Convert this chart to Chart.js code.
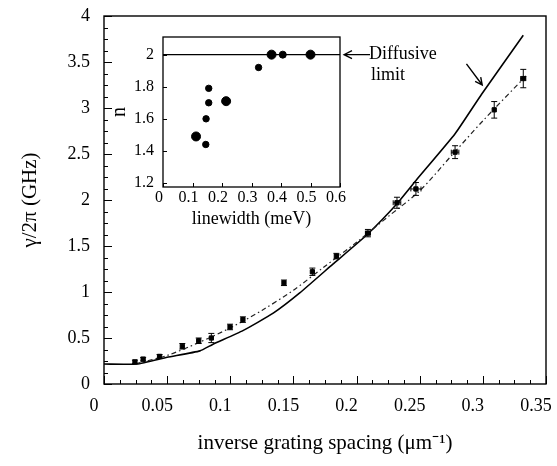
<!DOCTYPE html>
<html>
<head>
<meta charset="utf-8">
<script src="https://cdn.jsdelivr.net/npm/chart.js@4/dist/chart.umd.min.js"></script>
<style>
  body { margin: 0; background: #fff; }
  #wrap { position: relative; width: 557px; height: 466px; background: #fff; }
  #main { position: absolute; left: 0; top: 0; }
  #inset { position: absolute; left: 100px; top: 20px; }
</style>
</head>
<body>
<div id="wrap">
  <canvas id="main" width="557" height="466"></canvas>
  <canvas id="inset" width="360" height="210"></canvas>
</div>
<script>
// measured damping rate vs inverse grating spacing
const spacingX = [0.0245, 0.031, 0.044, 0.062, 0.075, 0.085, 0.0998, 0.110, 0.1425, 0.165, 0.184, 0.209, 0.232, 0.247, 0.278, 0.309, 0.332];
const gammaY   = [0.24, 0.27, 0.30, 0.41, 0.47, 0.50, 0.62, 0.70, 1.10, 1.22, 1.39, 1.64, 1.97, 2.12, 2.52, 2.98, 3.32];
const gammaErr = [0.02, 0.02, 0.02, 0.03, 0.03, 0.05, 0.03, 0.03, 0.03, 0.04, 0.03, 0.04, 0.06, 0.07, 0.07, 0.09, 0.10];
const spacingErr = [0, 0, 0, 0, 0, 0, 0, 0, 0, 0, 0, 0.002, 0.003, 0.004, 0.003, 0, 0.002];

// power law fit (dash-dot)
const fitX = [0.025, 0.05, 0.075, 0.1, 0.125, 0.15, 0.175, 0.2, 0.225, 0.25, 0.275, 0.3, 0.335];
const fitY = [0.22, 0.31, 0.45, 0.61, 0.80, 1.02, 1.28, 1.54, 1.82, 2.10, 2.48, 2.86, 3.36];

// theory (solid)
const theoryX = [0, 0.026, 0.05, 0.076, 0.086, 0.11, 0.134, 0.155, 0.181, 0.208, 0.232, 0.2475, 0.278, 0.299, 0.332];
const theoryY = [0.217, 0.217, 0.29, 0.36, 0.43, 0.58, 0.77, 0.99, 1.30, 1.62, 1.96, 2.22, 2.72, 3.15, 3.79];

// inset: exponent n vs linewidth
const lwX = [0.112, 0.145, 0.146, 0.155, 0.155, 0.214, 0.324, 0.368, 0.406, 0.50];
const nY  = [1.49, 1.44, 1.60, 1.70, 1.79, 1.71, 1.92, 2.0, 2.0, 2.0];
const nSize = [4.5, 3.2, 3.2, 3.2, 3.2, 4.5, 3.2, 4.5, 3.5, 4.5];
const limitX = [0, 0.6];
const limitY = [2, 2];

const insetXTicks = [0, 0.1, 0.2, 0.3, 0.4, 0.5, 0.6];
const insetYTicks = [1.2, 1.4, 1.6, 1.8, 2];

const serif = 'Liberation Serif';
const pts = (xs, ys) => xs.map((x, i) => ({ x, y: ys[i] }));
const plain = v => String(parseFloat(Number(v).toFixed(4)));

function countSteps(min, max, step) {
  return Math.floor((max - min) / step + 1e-6);
}

// frame + inward ticks
const frameTicks = {
  id: 'frameTicks',
  afterDraw(chart, args, o) {
    const { ctx, chartArea: a, scales: { x, y } } = chart;
    ctx.save();
    ctx.strokeStyle = '#000';
    ctx.lineWidth = o.lw || 1.3;
    ctx.strokeRect(a.left, a.top, a.right - a.left, a.bottom - a.top);
    ctx.lineWidth = 1;
    ctx.beginPath();
    let n = countSteps(x.min, x.max, o.xMinor);
    for (let i = 0; i <= n; i++) {
      const v = x.min + i * o.xMinor;
      const px = Math.round(x.getPixelForValue(v)) + 0.5;
      const major = Math.abs(v / o.xMajor - Math.round(v / o.xMajor)) < 1e-6;
      ctx.moveTo(px, a.bottom);
      ctx.lineTo(px, a.bottom - (major ? o.majorLen : o.minorLen));
    }
    n = countSteps(o.yStart, y.max, o.yMinor);
    for (let i = 0; i <= n; i++) {
      const v = o.yStart + i * o.yMinor;
      if (v < y.min - 1e-9 || v > y.max + 1e-9) continue;
      const py = Math.round(y.getPixelForValue(v)) + 0.5;
      const major = Math.abs(v / o.yMajor - Math.round(v / o.yMajor)) < 1e-6;
      ctx.moveTo(a.left, py);
      ctx.lineTo(a.left + (major ? o.majorLen : o.minorLen), py);
    }
    ctx.stroke();
    ctx.restore();
  }
};

// error bars drawn from dataset arrays through the scales
const errorBars = {
  id: 'errorBars',
  afterDatasetsDraw(chart) {
    const { ctx, scales: { x, y } } = chart;
    ctx.save();
    ctx.strokeStyle = '#000';
    ctx.lineWidth = 1;
    chart.data.datasets.forEach(ds => {
      if (!ds.yErr) return;
      ds.data.forEach((p, i) => {
        const px = x.getPixelForValue(p.x);
        const py = y.getPixelForValue(p.y);
        const ey = ds.yErr[i], ex = ds.xErr[i];
        ctx.beginPath();
        if (ey) {
          const t = y.getPixelForValue(p.y + ey), b = y.getPixelForValue(p.y - ey);
          ctx.moveTo(px, t); ctx.lineTo(px, b);
          ctx.moveTo(px - 3, t); ctx.lineTo(px + 3, t);
          ctx.moveTo(px - 3, b); ctx.lineTo(px + 3, b);
        }
        if (ex) {
          const l = x.getPixelForValue(p.x - ex), r = x.getPixelForValue(p.x + ex);
          ctx.moveTo(l, py); ctx.lineTo(r, py);
          ctx.moveTo(l, py - 2.5); ctx.lineTo(l, py + 2.5);
          ctx.moveTo(r, py - 2.5); ctx.lineTo(r, py + 2.5);
        }
        ctx.stroke();
      });
    });
    ctx.restore();
  }
};

// arrow pointing at the theory curve
const curveArrow = {
  id: 'curveArrow',
  afterDraw(chart) {
    const { ctx, scales: { x, y } } = chart;
    const x0 = x.getPixelForValue(0.287), y0 = y.getPixelForValue(3.48);
    const x1 = x.getPixelForValue(0.2995), y1 = y.getPixelForValue(3.25);
    const ang = Math.atan2(y1 - y0, x1 - x0);
    ctx.save();
    ctx.strokeStyle = '#000';
    ctx.lineWidth = 1.4;
    ctx.beginPath();
    ctx.moveTo(x0, y0); ctx.lineTo(x1, y1);
    ctx.moveTo(x1 - 8 * Math.cos(ang - 0.45), y1 - 8 * Math.sin(ang - 0.45));
    ctx.lineTo(x1, y1);
    ctx.lineTo(x1 - 8 * Math.cos(ang + 0.45), y1 - 8 * Math.sin(ang + 0.45));
    ctx.stroke();
    ctx.restore();
  }
};

new Chart(document.getElementById('main'), {
  type: 'scatter',
  data: {
    datasets: [
      {
        label: 'data',
        data: pts(spacingX, gammaY),
        yErr: gammaErr,
        xErr: spacingErr,
        backgroundColor: '#000',
        borderColor: '#000',
        pointRadius: 3,
        pointStyle: 'rect',
        order: 0
      },
      {
        label: 'fit',
        data: pts(fitX, fitY),
        showLine: true,
        borderColor: '#222',
        borderWidth: 1.2,
        borderDash: [5, 3, 1.5, 3],
        pointRadius: 0,
        tension: 0.3,
        order: 1
      },
      {
        label: 'theory',
        data: pts(theoryX, theoryY),
        showLine: true,
        borderColor: '#000',
        borderWidth: 1.6,
        pointRadius: 0,
        tension: 0.15,
        order: 2
      }
    ]
  },
  options: {
    responsive: false,
    animation: false,
    layout: { padding: { left: 0, right: 11, top: 16, bottom: 0 } },
    plugins: {
      legend: { display: false },
      tooltip: { enabled: false },
      frameTicks: { xMinor: 0.0125, xMajor: 0.05, yStart: 0, yMinor: 0.125, yMajor: 0.5, majorLen: 8, minorLen: 4, lw: 1.4 }
    },
    scales: {
      x: {
        type: 'linear',
        min: 0, max: 0.35,
        grid: { display: false, drawTicks: false },
        border: { display: false },
        ticks: { stepSize: 0.05, color: '#000', font: { family: serif, size: 18 }, padding: 11, labelOffset: -10, maxRotation: 0, callback: plain },
        title: { display: true, text: 'inverse grating spacing (μm⁻¹)', color: '#000', font: { family: serif, size: 21 }, padding: { top: 4, bottom: 10 } },
        afterFit(s) { s.height = 82; s.paddingLeft = 0; s.paddingRight = 0; }
      },
      y: {
        min: 0, max: 4,
        grid: { display: false, drawTicks: false },
        border: { display: false },
        ticks: { stepSize: 0.5, color: '#000', font: { family: serif, size: 18 }, padding: 14, callback: plain },
        title: { display: true, text: 'γ/2π (GHz)', color: '#000', font: { family: serif, size: 21 }, padding: { top: 18, bottom: 0 } },
        afterFit(s) { s.width = 104; s.paddingTop = 0; s.paddingBottom = 0; }
      }
    }
  },
  plugins: [frameTicks, errorBars, curveArrow]
});

// white box under the inset plus the "Diffusive limit" label
const insetDecor = {
  id: 'insetDecor',
  beforeDraw(chart) {
    const { ctx, chartArea: a } = chart;
    ctx.save();
    ctx.fillStyle = '#fff';
    ctx.fillRect(a.left, a.top, a.right - a.left, a.bottom - a.top);
    ctx.restore();
  },
  afterDraw(chart) {
    const { ctx, chartArea: a, scales: { y } } = chart;
    const py = y.getPixelForValue(2);
    const ax = a.right + 4;
    ctx.save();
    ctx.strokeStyle = '#000';
    ctx.lineWidth = 1.3;
    ctx.beginPath();
    ctx.moveTo(ax + 26, py); ctx.lineTo(ax, py);
    ctx.moveTo(ax + 8, py - 4); ctx.lineTo(ax, py); ctx.lineTo(ax + 8, py + 4);
    ctx.stroke();
    ctx.fillStyle = '#000';
    ctx.font = '18px ' + serif;
    ctx.textBaseline = 'middle';
    ctx.fillText('Diffusive', ax + 25, py);
    ctx.fillText('limit', ax + 27, py + 21);
    ctx.restore();
  }
};

new Chart(document.getElementById('inset'), {
  type: 'scatter',
  data: {
    datasets: [
      {
        label: 'n',
        data: pts(lwX, nY),
        backgroundColor: '#000',
        borderColor: '#000',
        pointRadius: nSize,
        order: 0
      },
      {
        label: 'limit',
        data: pts(limitX, limitY),
        showLine: true,
        borderColor: '#000',
        borderWidth: 1.3,
        pointRadius: 0,
        order: 1
      }
    ]
  },
  options: {
    responsive: false,
    animation: false,
    layout: { padding: { left: 0, right: 120, top: 17, bottom: 0 } },
    plugins: {
      legend: { display: false },
      tooltip: { enabled: false },
      frameTicks: { xMinor: 0.1, xMajor: 0.1, yStart: 1.2, yMinor: 0.2, yMajor: 0.2, majorLen: 4, minorLen: 4, lw: 1.3 }
    },
    scales: {
      x: {
        type: 'linear',
        min: 0, max: 0.6,
        grid: { display: false, drawTicks: false },
        border: { display: false },
        afterBuildTicks(s) { s.ticks = insetXTicks.map(v => ({ value: v })); },
        ticks: { color: '#000', font: { family: serif, size: 16 }, padding: 1, labelOffset: -4, maxRotation: 0, callback: plain },
        title: { display: true, text: 'linewidth (meV)', color: '#000', font: { family: serif, size: 18 }, padding: { top: 0, bottom: 0 } },
        afterFit(s) { s.height = 43; s.paddingLeft = 0; s.paddingRight = 0; }
      },
      y: {
        min: 1.175, max: 2.11,
        grid: { display: false, drawTicks: false },
        border: { display: false },
        afterBuildTicks(s) { s.ticks = insetYTicks.map(v => ({ value: v })); },
        ticks: { color: '#000', font: { family: serif, size: 16 }, padding: 9, callback: plain },
        title: { display: true, text: 'n', color: '#000', font: { family: serif, size: 20 }, padding: { top: 8, bottom: 0 } },
        afterFit(s) { s.width = 63; s.paddingTop = 0; s.paddingBottom = 0; }
      }
    }
  },
  plugins: [insetDecor, frameTicks]
});
</script>
</body>
</html>
